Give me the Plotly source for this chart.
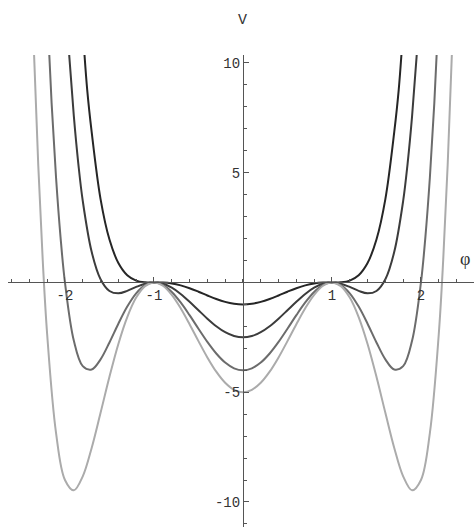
import plotly.graph_objects as go

# Potential curves V(phi), one per parameter value (darkest to lightest)
phi_a = [-1.8, -1.75, -1.7, -1.6, -1.5, -1.4, -1.3, -1.2, -1.1, -1.0, -0.9, -0.8, -0.7, -0.6, -0.5, -0.4, -0.3, -0.2, -0.1, 0.0,
         0.1, 0.2, 0.3, 0.4, 0.5, 0.6, 0.7, 0.8, 0.9, 1.0, 1.1, 1.2, 1.3, 1.4, 1.5, 1.6, 1.7, 1.75, 1.8]
v_a = [11.52, 8.773, 6.859, 3.796, 1.953, 0.885, 0.329, 0.085, 0.009, 0.0, -0.007, -0.047, -0.133, -0.262, -0.422, -0.593, -0.754, -0.885, -0.970, -1.0,
       -0.970, -0.885, -0.754, -0.593, -0.422, -0.262, -0.133, -0.047, -0.007, 0.0, 0.009, 0.085, 0.329, 0.885, 1.953, 3.796, 6.859, 8.773, 11.52]

phi_b = [-2.0, -1.95, -1.9, -1.85, -1.8, -1.7, -1.6, -1.5, -1.4, -1.3, -1.2, -1.1, -1.0, -0.9, -0.8, -0.7, -0.6, -0.5, -0.4, -0.3, -0.2, -0.1, 0.0,
         0.1, 0.2, 0.3, 0.4, 0.5, 0.6, 0.7, 0.8, 0.9, 1.0, 1.1, 1.2, 1.3, 1.4, 1.5, 1.6, 1.7, 1.8, 1.85, 1.9, 1.95, 2.0]
v_b = [13.5, 10.23, 7.561, 5.414, 3.713, 1.393, 0.146, -0.391, -0.498, -0.386, -0.205, -0.057, 0.0, -0.061, -0.241, -0.523, -0.877, -1.266, -1.651, -1.996, -2.267, -2.440, -2.5,
       -2.440, -2.267, -1.996, -1.651, -1.266, -0.877, -0.523, -0.241, -0.061, 0.0, -0.057, -0.205, -0.386, -0.498, -0.391, 0.146, 1.393, 3.713, 5.414, 7.561, 10.23, 13.5]

phi_c = [-2.2, -2.15, -2.1, -2.05, -2.0, -1.9, -1.8, -1.7, -1.6, -1.5, -1.4, -1.3, -1.2, -1.1, -1.0, -0.9, -0.8, -0.7, -0.6, -0.5, -0.4, -0.3, -0.2, -0.1, 0.0,
         0.1, 0.2, 0.3, 0.4, 0.5, 0.6, 0.7, 0.8, 0.9, 1.0, 1.1, 1.2, 1.3, 1.4, 1.5, 1.6, 1.7, 1.8, 1.9, 2.0, 2.05, 2.1, 2.15, 2.2]
v_c = [12.39, 8.169, 4.768, 2.077, 0.0, -2.657, -3.813, -3.965, -3.504, -2.734, -1.880, -1.100, -0.496, -0.123, 0.0, -0.115, -0.436, -0.913, -1.491, -2.109, -2.710, -3.238, -3.650, -3.911, -4.0,
       -3.911, -3.650, -3.238, -2.710, -2.109, -1.491, -0.913, -0.436, -0.115, 0.0, -0.123, -0.496, -1.100, -1.880, -2.734, -3.504, -3.965, -3.813, -2.657, 0.0, 2.077, 4.768, 8.169, 12.39]

phi_d = [-2.4, -2.35, -2.3, -2.25, -2.2, -2.1, -2.0, -1.9, -1.8, -1.7, -1.6, -1.5, -1.4, -1.3, -1.2, -1.1, -1.0, -0.9, -0.8, -0.7, -0.6, -0.5, -0.4, -0.3, -0.2, -0.1, 0.0,
         0.1, 0.2, 0.3, 0.4, 0.5, 0.6, 0.7, 0.8, 0.9, 1.0, 1.1, 1.2, 1.3, 1.4, 1.5, 1.6, 1.7, 1.8, 1.9, 2.0, 2.1, 2.2, 2.25, 2.3, 2.35, 2.4]
v_d = [17.22, 10.69, 5.337, 1.032, -2.359, -6.861, -9.0, -9.469, -8.831, -7.537, -5.938, -4.297, -2.802, -1.576, -0.689, -0.167, 0.0, -0.151, -0.565, -1.173, -1.901, -2.672, -3.415, -4.066, -4.571, -4.891, -5.0,
       -4.891, -4.571, -4.066, -3.415, -2.672, -1.901, -1.173, -0.565, -0.151, 0.0, -0.167, -0.689, -1.576, -2.802, -4.297, -5.938, -7.537, -8.831, -9.469, -9.0, -6.861, -2.359, 1.032, 5.337, 10.69, 17.22]

curves = [(phi_a, v_a, "#262626"), (phi_b, v_b, "#3c3c3c"), (phi_c, v_c, "#6c6c6c"), (phi_d, v_d, "#ababab")]

x_ticks = [-2, -1, 1, 2]
x_tick_text = ["-2", "-1", "1", "2"]
y_ticks = [-10, -5, 5, 10]
y_tick_text = ["-10", "-5", "5", "10"]

x_range = [-2.640, 2.596]
y_range = [-11.14, 10.36]

fig = go.Figure()
for xs, ys, col in curves:
    fig.add_trace(go.Scatter(x=xs, y=ys, mode="lines",
                             line=dict(color=col, width=2, shape="spline", smoothing=1.0),
                             hoverinfo="skip", showlegend=False))

tick_font = dict(family="Liberation Mono, Courier New, monospace", size=14, color="#333333")
axis_col = "#555555"

fig.update_layout(
    width=474, height=527,
    margin=dict(l=8, r=0, t=55, b=0),
    paper_bgcolor="white", plot_bgcolor="white",
    xaxis=dict(range=x_range, anchor="free",
               position=(0 - y_range[0]) / (y_range[1] - y_range[0]),
               showgrid=False, zeroline=False, showline=True, linecolor=axis_col, linewidth=1,
               tickmode="array", tickvals=x_ticks, ticktext=x_tick_text,
               ticks="inside", ticklen=5, tickcolor=axis_col, tickfont=tick_font,
               minor=dict(tickmode="linear", tick0=0, dtick=0.2, ticks="inside", ticklen=3, tickcolor=axis_col)),
    yaxis=dict(range=y_range, anchor="free",
               position=(0 - x_range[0]) / (x_range[1] - x_range[0]),
               showgrid=False, zeroline=False, showline=True, linecolor=axis_col, linewidth=1,
               tickmode="array", tickvals=y_ticks, ticktext=y_tick_text,
               ticks="inside", ticklen=5, tickcolor=axis_col, tickfont=tick_font,
               minor=dict(tickmode="linear", tick0=0, dtick=1, ticks="inside", ticklen=3, tickcolor=axis_col)),
    annotations=[
        dict(text="V", x=0, xref="x", y=1.095, yref="paper", showarrow=False,
             font=dict(family="Liberation Mono, monospace", size=15, color="#333333")),
        dict(text="φ", x=2.50, xref="x", y=1.05, yref="y", showarrow=False,
             font=dict(family="Liberation Serif, serif", size=18, color="#333333")),
    ],
)

fig.write_html("out.html")
